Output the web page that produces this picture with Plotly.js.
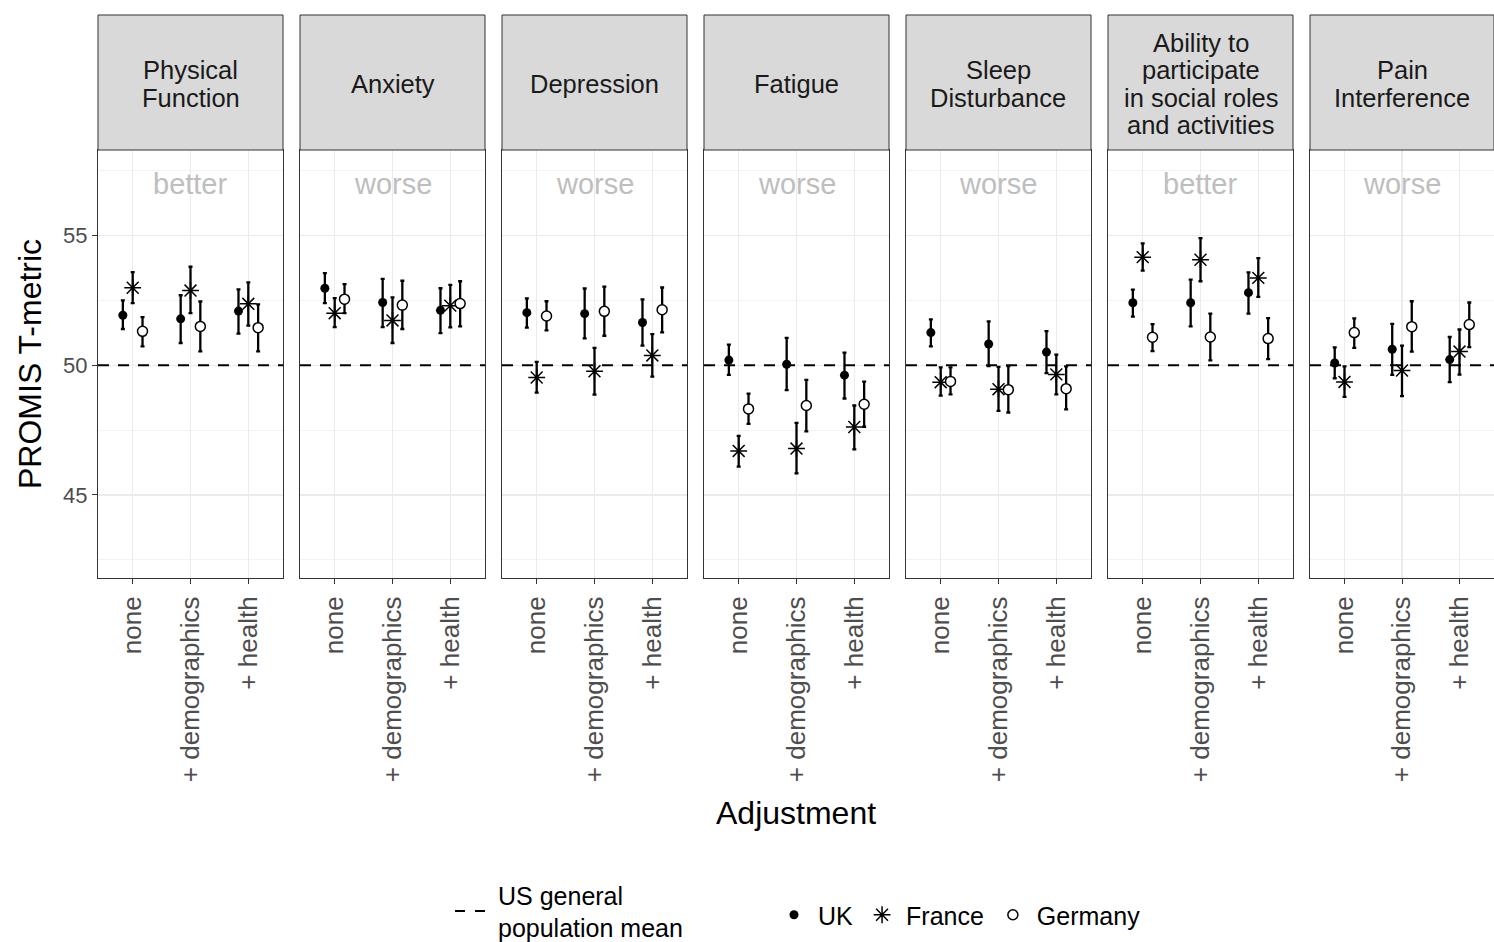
<!DOCTYPE html>
<html><head><meta charset="utf-8">
<script src="https://cdn.plot.ly/plotly-3.0.1.min.js"></script>
<style>body{margin:0;padding:0;background:#fff}#chart{width:1494px;height:942px}</style>
</head><body><div id="chart"></div>
<script>
const categories = ['none', '+ demographics', '+ health'];
const outcomes = ['Physical<br>Function', 'Anxiety', 'Depression', 'Fatigue', 'Sleep<br>Disturbance',
  'Ability to<br>participate<br>in social roles<br>and activities', 'Pain<br>Interference'];
const direction = ['better', 'worse', 'worse', 'worse', 'worse', 'better', 'worse'];
const usMean = 50;

const ukMean = [[51.93,51.79,52.09],[52.97,52.42,52.12],[52.03,51.99,51.65],[50.20,50.04,49.62],[51.26,50.82,50.51],[52.41,52.41,52.80],[50.09,50.62,50.22]];
const ukLow  = [[51.40,50.86,51.22],[52.40,51.47,51.24],[51.45,51.04,50.76],[49.63,49.04,48.72],[50.73,49.97,49.70],[51.88,51.50,51.99],[49.50,49.63,49.35]];
const ukHigh = [[52.50,52.70,52.93],[53.55,53.33,52.97],[52.58,52.96,52.54],[50.80,51.06,50.49],[51.77,51.69,51.32],[52.92,53.30,53.58],[50.69,51.60,51.09]];

const frMean = [[52.99,52.88,52.37],[52.01,51.73,52.30],[49.53,49.77,50.38],[46.70,46.79,47.62],[49.35,49.08,49.65],[54.17,54.07,53.37],[49.36,49.80,50.53]];
const frLow  = [[52.40,52.01,51.53],[51.47,50.86,51.46],[48.95,48.87,49.56],[46.09,45.83,46.76],[48.83,48.24,48.88],[53.65,53.24,52.64],[48.78,48.81,49.64]];
const frHigh = [[53.59,53.80,53.20],[52.59,52.62,53.10],[50.13,50.67,51.20],[47.28,47.78,48.45],[49.92,49.94,50.41],[54.70,54.90,54.13],[49.96,50.76,51.38]];

const deMean = [[51.31,51.50,51.45],[52.55,52.32,52.38],[51.90,52.08,52.14],[48.32,48.45,48.50],[49.38,49.06,49.10],[51.08,51.09,51.03],[51.26,51.49,51.57]];
const deLow  = [[50.73,50.54,50.54],[52.01,51.40,51.50],[51.35,51.14,51.27],[47.74,47.45,47.63],[48.88,48.18,48.30],[50.55,50.19,50.24],[50.67,50.53,50.70]];
const deHigh = [[51.86,52.46,52.35],[53.13,53.26,53.24],[52.47,53.03,53.00],[48.91,49.44,49.37],[49.92,49.97,49.96],[51.59,51.99,51.82],[51.81,52.47,52.42]];

const FONT = 'Liberation Sans, Arial, sans-serif';

const series = [
  {name: 'UK', mean: ukMean, low: ukLow, high: ukHigh, dodge: -0.17,
   marker: {symbol: 'circle', size: 9, color: '#000000', line: {width: 0}}},
  {name: 'France', mean: frMean, low: frLow, high: frHigh, dodge: 0,
   marker: {symbol: 'asterisk-open', size: 14, color: '#000000', line: {width: 1.5, color: '#000000'}}},
  {name: 'Germany', mean: deMean, low: deLow, high: deHigh, dodge: 0.17,
   marker: {symbol: 'circle', size: 10, color: '#FFFFFF', line: {width: 1.5, color: '#000000'}}}
];

const nP = outcomes.length;
const xRange = [0.4, 3.6];
const plotW = 1396, panelW = 185, gapW = 17, plotH = 428;
const plotBottomPx = 578;
const py = v => (plotBottomPx - v) / plotH; // pixel row -> paper y
const traces = [];
const layout = {
  width: 1494, height: 942,
  margin: {l: 98, r: 0, t: 150, b: 364, autoexpand: false},
  paper_bgcolor: '#FFFFFF', plot_bgcolor: '#FFFFFF',
  font: {family: FONT, color: '#000000'},
  shapes: [], annotations: [],
  legend: {orientation: 'h', x: (450 - 98) / plotW, xanchor: 'left', y: py(911), yanchor: 'middle',
           font: {size: 25, family: FONT, color: '#000000'}, itemwidth: 38, bgcolor: 'rgba(0,0,0,0)'},
  legend2: {orientation: 'h', x: (770 - 98) / plotW, xanchor: 'left', y: py(915), yanchor: 'middle',
           font: {size: 25, family: FONT, color: '#000000'}, itemwidth: 38, bgcolor: 'rgba(0,0,0,0)'}
};

for (let p = 0; p < nP; p++) {
  const s = p === 0 ? '' : String(p + 1);
  const xa = 'x' + s, ya = 'y' + s;
  const d0 = (p * (panelW + gapW)) / plotW, d1 = (p * (panelW + gapW) + panelW) / plotW;
  layout['xaxis' + s] = {
    domain: [d0, Math.min(d1, 1)], anchor: ya, range: xRange,
    tickvals: categories.map((c, i) => i + 1), ticktext: categories, tickangle: -90,
    tickfont: {size: 26, color: '#4D4D4D', family: FONT}, ticklabelstandoff: 2,
    ticks: 'outside', ticklen: 5, tickcolor: '#333333', tickwidth: 1,
    showgrid: true, gridcolor: '#EBEBEB', gridwidth: 1.3, zeroline: false,
    showline: true, mirror: true, linecolor: '#333333', linewidth: 1, fixedrange: true
  };
  layout['yaxis' + s] = {
    domain: [0, 1], anchor: xa, range: [41.8, 58.3],
    tick0: 45, dtick: 5, showticklabels: p === 0,
    tickfont: {size: 22, color: '#4D4D4D', family: FONT},
    ticks: p === 0 ? 'outside' : '', ticklen: 5, tickcolor: '#333333', tickwidth: 1,
    showgrid: true, gridcolor: '#EBEBEB', gridwidth: 1.3, zeroline: false,
    minor: {tick0: 42.5, dtick: 5, showgrid: true, gridcolor: '#EBEBEB', gridwidth: 0.6, ticks: ''},
    showline: true, mirror: true, linecolor: '#333333', linewidth: 1, fixedrange: true
  };
  if (p > 0) layout['yaxis' + s].matches = 'y';

  // US general population mean reference line across the panel
  traces.push({type: 'scatter', mode: 'lines', xaxis: xa, yaxis: ya, x: xRange, y: [usMean, usMean],
    name: 'US general<br>population mean', line: {color: '#000000', width: 2, dash: '11px,9px'},
    showlegend: p === 0, legend: 'legend', hoverinfo: 'skip', cliponaxis: true});

  layout.shapes.push({type: 'rect', xref: xa + ' domain', x0: 0, x1: 1, yref: 'paper', y0: 1, y1: py(15),
    fillcolor: '#D9D9D9', line: {color: '#333333', width: 1}, layer: 'above'});
  const lines = outcomes[p].split('<br>');
  lines.forEach((ln, i) => {
    layout.annotations.push({xref: xa + ' domain', x: 0.5, yref: 'paper',
      y: py(84 + (i - (lines.length - 1) / 2) * 27.5),
      text: ln, showarrow: false, xanchor: 'center', yanchor: 'middle',
      font: {size: 25.5, color: '#1A1A1A', family: FONT}});
  });
  layout.annotations.push({xref: xa, x: 2, yref: ya, y: 57, text: direction[p], showarrow: false,
    xanchor: 'center', yanchor: 'middle', font: {size: 29, color: '#BEBEBE', family: FONT}});

  series.forEach(ser => {
    const m = ser.mean[p], lo = ser.low[p], hi = ser.high[p];
    traces.push({
      type: 'scatter', mode: 'markers', xaxis: xa, yaxis: ya, name: ser.name,
      x: categories.map((c, i) => i + 1 + ser.dodge), y: m,
      error_y: {type: 'data', symmetric: false, array: m.map((v, i) => hi[i] - v), arrayminus: m.map((v, i) => v - lo[i]),
        color: '#000000', thickness: 2.3, width: 2},
      marker: ser.marker, showlegend: p === 0, legend: 'legend2', cliponaxis: false
    });
  });
}

layout.annotations.push({xref: 'paper', x: 0.5, yref: 'paper', y: py(813), text: 'Adjustment',
  showarrow: false, xanchor: 'center', yanchor: 'middle', font: {size: 32, color: '#000000', family: FONT}});
layout.annotations.push({xref: 'paper', x: (30 - 98) / plotW, yref: 'paper', y: 0.5, text: 'PROMIS T-metric', textangle: -90,
  showarrow: false, xanchor: 'center', yanchor: 'middle', font: {size: 32, color: '#000000', family: FONT}});

Plotly.newPlot('chart', traces, layout, {displayModeBar: false, staticPlot: true}).then(() => {
  // make the legend dash a short two-dash pattern like the reference
  document.querySelectorAll('.legend .legendlines path').forEach(el => el.style.strokeDasharray = '10px,10px');
});
</script></body></html>
